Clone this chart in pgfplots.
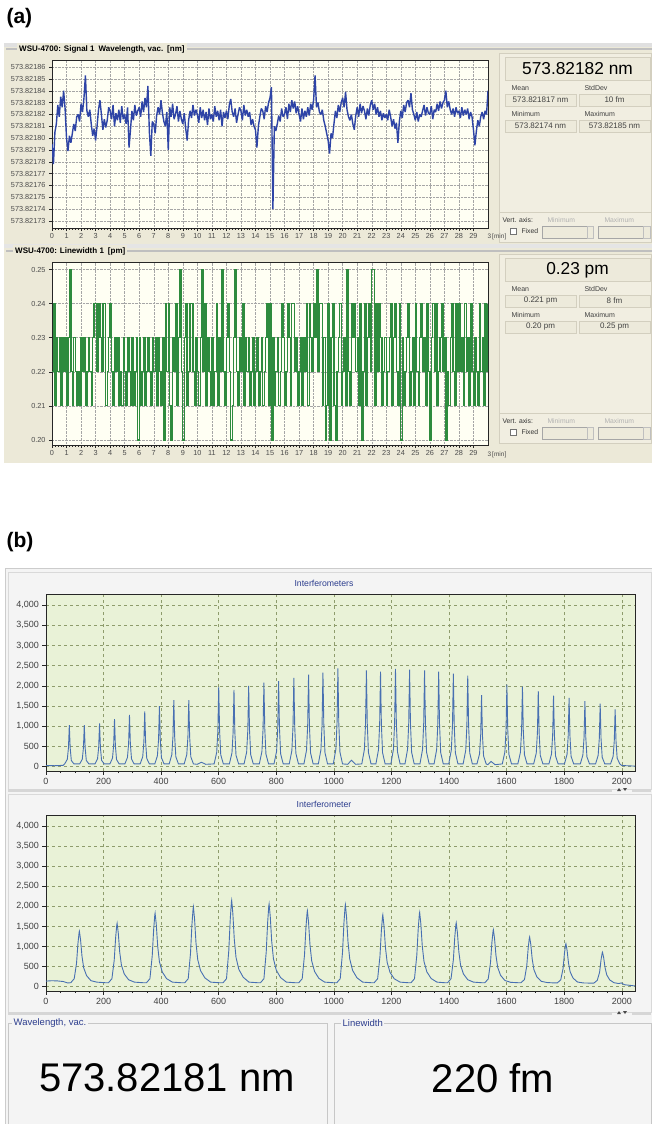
\documentclass[border=0pt]{standalone}
\usepackage{fontspec}
\setmainfont{Liberation Sans}
\usepackage{pgfplots}
\usepackage{pgfplotstable}
\pgfplotsset{compat=1.18}

\definecolor{winA}{HTML}{ECE9D8}
\definecolor{infoA}{HTML}{F1EEE1}
\definecolor{boxA}{HTML}{EDEADB}
\definecolor{edgeA}{HTML}{D3CFBF}
\definecolor{plotA}{HTML}{FFFFF3}
\definecolor{wblue}{HTML}{2E44A6}
\definecolor{lgreen}{HTML}{2E8B3E}
\definecolor{winB}{HTML}{F4F4F4}
\definecolor{plotB}{HTML}{E9F2D7}
\definecolor{gridB}{HTML}{8E9C6C}
\definecolor{lineB}{HTML}{4870B2}
\definecolor{navyT}{HTML}{2D3E8E}

\newcommand\fs[1]{\fontsize{#1}{#1}\selectfont}

% wavelength, in 1e-5 nm above 573.8217 nm, one value every 0.1 min
\pgfplotstableread[row sep=\\,header=false]{
9.5\\7.8\\10.5\\11.2\\12.8\\11.8\\13.5\\12.6\\14.0\\12.5\\
10.0\\8.9\\10.2\\9.6\\10.4\\11.2\\10.6\\11.8\\12.0\\11.4\\
12.9\\12.2\\13.4\\15.3\\12.3\\11.8\\12.4\\11.2\\10.2\\10.8\\
9.8\\11.0\\12.4\\13.2\\12.0\\10.7\\11.6\\10.9\\11.5\\12.6\\
12.3\\11.6\\12.8\\11.0\\12.1\\11.5\\12.4\\11.3\\12.7\\11.6\\
12.0\\11.2\\12.6\\9.2\\10.7\\12.3\\11.5\\12.8\\11.9\\12.3\\
12.6\\11.8\\13.1\\12.2\\13.4\\12.6\\14.4\\10.5\\8.5\\11.4\\
11.2\\10.4\\11.9\\12.6\\12.0\\13.2\\12.1\\11.4\\11.0\\12.2\\
9.0\\12.6\\11.8\\12.9\\11.6\\12.0\\12.7\\11.4\\12.3\\11.6\\
11.2\\12.1\\10.8\\9.8\\11.5\\12.3\\11.7\\12.8\\11.9\\12.4\\
12.0\\11.3\\12.6\\11.7\\12.4\\11.5\\12.2\\11.1\\12.5\\11.6\\
12.0\\11.4\\12.7\\11.8\\12.3\\11.5\\12.4\\11.0\\12.2\\11.7\\
12.3\\11.6\\12.8\\13.3\\12.2\\11.8\\12.5\\11.3\\12.0\\12.6\\
12.3\\11.5\\12.8\\11.9\\12.4\\11.8\\12.2\\11.1\\11.6\\11.0\\
10.7\\9.2\\11.0\\11.8\\12.5\\12.3\\11.6\\12.7\\12.2\\13.0\\
13.4\\14.3\\4.0\\11.0\\10.6\\11.2\\11.9\\11.4\\12.5\\11.8\\
12.0\\12.6\\11.6\\12.9\\12.2\\13.2\\12.5\\13.1\\12.1\\12.7\\
12.0\\11.4\\12.5\\11.6\\12.3\\11.8\\12.6\\11.9\\12.9\\12.4\\
13.2\\15.3\\12.6\\13.0\\12.2\\12.0\\12.4\\11.5\\11.0\\10.4\\
9.8\\8.7\\10.4\\10.0\\11.2\\12.3\\11.7\\12.8\\12.2\\13.0\\
13.4\\12.6\\13.9\\12.4\\11.8\\11.5\\12.0\\11.2\\10.7\\11.9\\
12.6\\11.8\\12.9\\12.1\\12.7\\12.3\\11.6\\12.5\\11.9\\12.8\\
13.2\\12.4\\12.9\\12.0\\12.6\\11.8\\12.3\\11.5\\12.1\\11.7\\
12.0\\11.5\\12.4\\11.8\\11.0\\11.6\\10.8\\11.3\\9.6\\11.4\\
12.3\\11.7\\12.8\\12.2\\13.0\\13.2\\12.6\\13.8\\12.4\\12.0\\
11.5\\12.2\\11.4\\12.0\\11.8\\12.3\\12.8\\11.9\\12.6\\12.1\\
12.0\\12.7\\11.6\\12.4\\12.2\\12.9\\12.3\\13.1\\12.5\\13.0\\
13.2\\14.0\\12.6\\13.1\\12.4\\12.0\\12.5\\11.8\\12.6\\12.1\\
12.3\\11.7\\12.6\\11.9\\12.4\\12.0\\12.5\\11.6\\12.2\\11.8\\
10.7\\9.4\\10.6\\11.5\\11.0\\11.8\\12.2\\11.6\\12.3\\12.0\\
14.0\\
}\wavelen

% linewidth, in 0.01 pm, one value every 0.1 min
\pgfplotstableread[row sep=\\,header=false]{
22\\24\\21\\23\\22\\23\\21\\23\\22\\23\\
21\\23\\25\\22\\21\\23\\22\\21\\22\\21\\
23\\22\\23\\21\\22\\23\\22\\21\\23\\24\\
24\\22\\24\\23\\22\\24\\24\\21\\22\\23\\
24\\22\\21\\23\\22\\23\\21\\22\\21\\23\\
22\\21\\23\\22\\21\\23\\21\\22\\23\\20\\
23\\21\\22\\23\\21\\22\\23\\22\\21\\23\\
22\\23\\21\\23\\22\\21\\23\\20\\24\\22\\
24\\21\\20\\23\\22\\24\\21\\23\\25\\22\\
20\\23\\24\\21\\22\\24\\24\\22\\21\\23\\
22\\21\\23\\25\\22\\24\\21\\23\\22\\21\\
23\\21\\22\\24\\21\\23\\22\\25\\22\\21\\
23\\24\\22\\20\\21\\23\\25\\22\\21\\23\\
22\\24\\21\\23\\22\\23\\21\\22\\23\\21\\
22\\23\\21\\22\\23\\21\\22\\23\\24\\21\\
24\\20\\23\\21\\22\\23\\21\\22\\24\\23\\
21\\22\\24\\23\\21\\24\\24\\22\\23\\21\\
22\\23\\21\\23\\22\\24\\21\\24\\23\\22\\
24\\23\\25\\22\\24\\24\\21\\23\\20\\21\\
24\\20\\23\\24\\21\\20\\22\\23\\24\\21\\
22\\23\\21\\25\\22\\21\\24\\23\\24\\22\\
23\\21\\24\\20\\22\\24\\21\\23\\24\\22\\
25\\25\\21\\24\\22\\24\\23\\21\\22\\23\\
21\\22\\23\\24\\21\\23\\24\\22\\21\\24\\
20\\23\\21\\22\\23\\24\\21\\22\\23\\21\\
24\\22\\21\\23\\24\\22\\23\\21\\24\\22\\
20\\23\\24\\22\\24\\21\\22\\23\\24\\22\\
23\\20\\22\\21\\23\\24\\22\\21\\24\\22\\
24\\22\\23\\21\\24\\22\\23\\21\\24\\22\\
21\\23\\22\\21\\24\\22\\23\\21\\24\\22\\
24\\
}\linewid

\pgfplotsset{
  wsu/.style={
    scale only axis, anchor=north west, width=436pt,
    xmin=0, xmax=30, xtick={0,...,29}, minor x tick num=4,
    tick pos=left, tick align=outside,
    major tick length=3pt, minor tick length=1.5pt,
    grid=major, major grid style={densely dotted, black!35, line width=0.4pt},
    axis background/.style={fill=plotA},
    axis line style={black!85, line width=0.6pt},
    tick style={black!85, line width=0.4pt},
    ticklabel style={font=\fs{7.3}, text=black!70},
    xticklabel style={yshift=1pt},
    /pgf/number format/assume math mode=true,
  },
  interf/.style={
    scale only axis, anchor=north west, width=589pt, height=177pt,
    xmin=0, xmax=2046, ymin=-106, ymax=4272,
    xtick={0,200,...,2000}, minor x tick num=3,
    xticklabels={0,200,400,600,800,1000,1200,1400,1600,1800,2000},
    ytick={0,500,...,4000},
    yticklabels={0,500,{1,000},{1,500},{2,000},{2,500},{3,000},{3,500},{4,000}},
    tick pos=left, tick align=outside,
    major tick length=3.5pt, minor tick length=2pt,
    grid=major, major grid style={dashed, gridB, line width=0.5pt},
    axis background/.style={fill=plotB},
    axis line style={black!85, line width=0.7pt},
    tick style={black!85, line width=0.5pt},
    ticklabel style={font=\fs{9}, text=black!75},
  },
}

\begin{document}
\begin{tikzpicture}[x=1pt, y=-1pt]
\fill[white] (0,0) rectangle (652,1124);
\useasboundingbox (0,0) rectangle (652,1124);

% ---------------- (a) ----------------
\node[anchor=west, font=\bfseries\fs{21}] at (3,18) {(a)};
\fill[winA] (4,44) rectangle (652,463);
\fill[black!12] (4,43) rectangle (652,47);
\fill[black!10] (4,244) rectangle (652,248);

% title rules
\draw[black!25, line width=1.2pt] (6,49) -- (652,49);
\node[anchor=west, fill=winA, inner sep=2pt, font=\bfseries\fs{8}] at (17,49)
  {WSU-4700: Signal 1\enspace Wavelength, vac.\enspace [nm]};
\draw[black!25, line width=1.2pt] (6,251) -- (652,251);
\node[anchor=west, fill=winA, inner sep=2pt, font=\bfseries\fs{8}] at (13,251)
  {WSU-4700: Linewidth 1\enspace [pm]};

% info panels
\foreach \o in {0,201} {
  \filldraw[fill=infoA, draw=edgeA] (499,53+\o) rectangle (651,242+\o);
  \filldraw[fill=boxA, draw=edgeA] (505,57+\o) rectangle (650,80+\o);
  \filldraw[fill=boxA, draw=edgeA] (505,94+\o) rectangle (576,106+\o);
  \filldraw[fill=boxA, draw=edgeA] (579,94+\o) rectangle (650,106+\o);
  \filldraw[fill=boxA, draw=edgeA] (505,120+\o) rectangle (576,132+\o);
  \filldraw[fill=boxA, draw=edgeA] (579,120+\o) rectangle (650,132+\o);
  \node[anchor=west, font=\fs{7}, text=black!75] at (508,88+\o) {Mean};
  \node[anchor=west, font=\fs{7}, text=black!75] at (581,88+\o) {StdDev};
  \node[anchor=west, font=\fs{7}, text=black!75] at (508,114+\o) {Minimum};
  \node[anchor=west, font=\fs{7}, text=black!75] at (581,114+\o) {Maximum};
  \draw[edgeA] (499,212+\o) -- (651,212+\o);
  \node[anchor=west, font=\fs{6.8}, text=black!80] at (499,220+\o) {Vert. axis:};
  \node[anchor=west, font=\fs{6.8}, text=black!30] at (544,220+\o) {Minimum};
  \node[anchor=west, font=\fs{6.8}, text=black!30] at (601,220+\o) {Maximum};
  \filldraw[fill=white, draw=black!55] (510,228+\o) rectangle (516,234+\o);
  \node[anchor=west, font=\fs{6.8}, text=black!80] at (518,231+\o) {Fixed};
  \filldraw[fill=boxA, draw=black!35] (542,226+\o) rectangle (587,238+\o);
  \filldraw[fill=boxA, draw=black!25] (587,226+\o) rectangle (593,238+\o);
  \filldraw[fill=boxA, draw=black!35] (598,226+\o) rectangle (643,238+\o);
  \filldraw[fill=boxA, draw=black!25] (643,226+\o) rectangle (650,238+\o);
}
\node[font=\fs{17.3}] at (577.5,69) {573.82182 nm};
\node[font=\fs{8}, text=black!75] at (540.5,100) {573.821817 nm};
\node[font=\fs{8}, text=black!75] at (614.5,100) {10 fm};
\node[font=\fs{8}, text=black!75] at (540.5,126) {573.82174 nm};
\node[font=\fs{8}, text=black!75] at (614.5,126) {573.82185 nm};
\node[font=\fs{17.3}] at (577.5,270) {0.23 pm};
\node[font=\fs{8}, text=black!75] at (540.5,301) {0.221 pm};
\node[font=\fs{8}, text=black!75] at (614.5,301) {8 fm};
\node[font=\fs{8}, text=black!75] at (540.5,327) {0.20 pm};
\node[font=\fs{8}, text=black!75] at (614.5,327) {0.25 pm};

\node[anchor=west, font=\fs{6.5}, text=black!70] at (484,237) {3\,[min]};
\node[anchor=west, font=\fs{6.5}, text=black!70] at (484,455) {3\,[min]};

% wavelength plot
\begin{axis}[wsu, at={(52pt,-60pt)}, height=168pt,
  ymin=2.4, ymax=16.6, ytick={3,...,16},
  yticklabels={573.82173,573.82174,573.82175,573.82176,573.82177,573.82178,573.82179,
    573.82180,573.82181,573.82182,573.82183,573.82184,573.82185,573.82186}]
  \addplot[wblue, line width=1.4pt, line join=bevel] table[x expr=\coordindex*0.1, y index=0] {\wavelen};
\end{axis}

% linewidth plot (values in 0.01 pm)
\begin{axis}[wsu, at={(52pt,-262pt)}, height=183pt,
  ymin=19.85, ymax=25.22, ytick={20,...,25},
  yticklabels={0.20,0.21,0.22,0.23,0.24,0.25}]
  \addplot[lgreen, line width=1.35pt, const plot] table[x expr=\coordindex*0.1, y index=0] {\linewid};
\end{axis}

% ---------------- (b) ----------------
\node[anchor=west, font=\bfseries\fs{21}] at (3,542) {(b)};
\filldraw[fill=winB, draw=black!20] (5,568) rectangle (652,1124);
\filldraw[fill=winB, draw=black!15] (8,572) rectangle (651,789);
\filldraw[fill=winB, draw=black!15] (8,794) rectangle (651,1012);
\fill[black!16] (8,789) rectangle (612,792);
\fill[black!16] (632,789) rectangle (651,792);
\fill[black!16] (8,1012) rectangle (612,1015);
\fill[black!16] (632,1012) rectangle (651,1015);
\foreach \yy in {790,1013} {
  \fill[black!70] (617,\yy+1) -- (621,\yy+1) -- (619,\yy-2) -- cycle;
  \fill[black!70] (623,\yy-2) -- (627,\yy-2) -- (625,\yy+1) -- cycle;
}
\node[font=\fs{8.7}, text=navyT] at (324,583) {Interferometers};
\node[font=\fs{8.7}, text=navyT] at (324,804) {Interferometer};

\begin{axis}[interf, at={(46pt,-594pt)}]
  \addplot[lineB, line width=0.9pt] coordinates {
    (0,30)(30,25)(60,35)
    (65,70)(74,185)(78,465)(81,1030)(84,465)(88,155)(97,70)
    (117,70)(126,185)(130,465)(133,1030)(136,465)(140,155)(149,70)
    (170,70)(179,193)(183,480)(186,1070)(189,480)(193,160)(202,70)
    (222,70)(231,212)(235,530)(238,1180)(241,530)(245,177)(254,70)
    (274,70)(283,230)(287,576)(290,1280)(293,576)(297,192)(306,70)
    (327,70)(336,247)(340,616)(343,1370)(346,616)(350,205)(359,70)
    (378,70)(387,270)(391,675)(394,1500)(397,675)(401,225)(410,70)
    (428,70)(437,297)(441,742)(444,1650)(447,742)(451,247)(460,70)
    (480,70)(489,297)(493,742)(496,1650)(499,742)(503,247)(512,70)
    (525,60)(540,110)(555,60)
    (584,70)(593,356)(597,891)(600,1980)(603,891)(607,297)(616,70)
    (637,70)(646,342)(650,855)(653,1900)(656,855)(660,285)(669,70)
    (688,70)(697,360)(701,900)(704,2000)(707,900)(711,300)(720,70)
    (741,70)(750,374)(754,936)(757,2080)(760,936)(764,312)(773,70)
    (792,70)(801,382)(805,954)(808,2120)(811,954)(815,318)(824,70)
    (845,70)(854,396)(858,990)(861,2200)(864,990)(868,330)(877,70)
    (896,70)(905,410)(909,1026)(912,2280)(915,1026)(919,342)(928,70)
    (946,70)(955,419)(959,1048)(962,2330)(965,1048)(969,350)(978,70)
    (998,70)(1007,437)(1011,1093)(1014,2430)(1017,1093)(1021,365)(1030,70)
    (1048,60)(1061,160)(1075,60)
    (1097,70)(1106,428)(1110,1071)(1113,2380)(1116,1071)(1120,357)(1129,70)
    (1146,70)(1155,423)(1159,1057)(1162,2350)(1165,1057)(1169,352)(1178,70)
    (1198,70)(1207,436)(1211,1089)(1214,2420)(1217,1089)(1221,363)(1230,70)
    (1247,70)(1256,432)(1260,1080)(1263,2400)(1266,1080)(1270,360)(1279,70)
    (1299,70)(1308,428)(1312,1071)(1315,2380)(1318,1071)(1322,357)(1331,70)
    (1348,70)(1357,423)(1361,1057)(1364,2350)(1367,1057)(1371,352)(1380,70)
    (1399,70)(1408,414)(1412,1035)(1415,2300)(1418,1035)(1422,345)(1431,70)
    (1449,70)(1458,405)(1462,1012)(1465,2250)(1468,1012)(1472,337)(1481,70)
    (1497,70)(1506,319)(1510,796)(1513,1770)(1516,796)(1520,265)(1529,70)
    (1535,50)(1546,130)(1560,50)
    (1585,70)(1594,365)(1598,913)(1601,2030)(1604,913)(1608,305)(1617,70)
    (1639,70)(1648,356)(1652,891)(1655,1980)(1658,891)(1662,297)(1671,70)
    (1694,70)(1703,337)(1707,841)(1710,1870)(1713,841)(1717,280)(1726,70)
    (1747,70)(1756,317)(1760,792)(1763,1760)(1766,792)(1770,264)(1779,70)
    (1801,70)(1810,306)(1814,765)(1817,1700)(1820,765)(1824,255)(1833,70)
    (1856,70)(1865,292)(1869,729)(1872,1620)(1875,729)(1879,243)(1888,70)
    (1909,70)(1918,281)(1922,702)(1925,1560)(1928,702)(1932,234)(1941,70)
    (1961,70)(1970,256)(1974,639)(1977,1420)(1980,639)(1984,213)(1993,70)
    (2000,30)(2046,15)
  };
\end{axis}

\begin{axis}[interf, at={(46pt,-815pt)}, height=176pt]
  \addplot[lineB, line width=0.9pt] coordinates {
    (0,140)(20,150)(40,145)(60,130)(75,95)
    (86,100)(98,200)(106,580)(111,1076)(115,1352)(116,1380)(120,1173)(125,759)(131,469)(141,276)(156,152)(176,115)(206,100)
    (217,100)(229,200)(237,664)(242,1232)(246,1548)(247,1580)(251,1343)(256,869)(262,537)(272,316)(287,174)(307,115)(337,100)
    (349,100)(361,200)(369,769)(374,1427)(378,1793)(379,1830)(383,1556)(388,1007)(394,622)(404,366)(419,201)(439,115)(469,100)
    (482,100)(494,200)(502,836)(507,1552)(511,1950)(512,1990)(516,1692)(521,1095)(527,677)(537,398)(552,219)(572,115)(602,100)
    (615,100)(627,200)(635,903)(640,1677)(644,2107)(645,2150)(649,1828)(654,1183)(660,731)(670,430)(685,237)(705,115)(735,100)
    (745,100)(757,200)(765,865)(770,1607)(774,2019)(775,2060)(779,1751)(784,1133)(790,700)(800,412)(815,227)(835,115)(865,100)
    (878,100)(890,200)(898,794)(903,1474)(907,1852)(908,1890)(912,1607)(917,1040)(923,643)(933,378)(948,208)(968,115)(998,100)
    (1010,100)(1022,200)(1030,857)(1035,1591)(1039,1999)(1040,2040)(1044,1734)(1049,1122)(1055,694)(1065,408)(1080,224)(1100,115)(1130,100)
    (1140,100)(1152,200)(1160,752)(1165,1396)(1169,1754)(1170,1790)(1174,1522)(1179,985)(1185,609)(1195,358)(1210,197)(1230,115)(1258,100)
    (1268,100)(1280,200)(1288,777)(1293,1443)(1297,1813)(1298,1850)(1302,1573)(1307,1018)(1313,629)(1323,370)(1338,204)(1358,115)(1385,100)
    (1395,100)(1407,200)(1415,668)(1420,1240)(1424,1558)(1425,1590)(1429,1352)(1434,875)(1440,541)(1450,318)(1465,175)(1485,115)(1514,100)
    (1524,100)(1536,190)(1544,596)(1549,1108)(1553,1392)(1554,1420)(1558,1207)(1563,781)(1569,483)(1579,284)(1594,156)(1614,110)(1640,100)
    (1650,100)(1662,180)(1670,521)(1675,967)(1679,1215)(1680,1240)(1684,1054)(1689,682)(1695,422)(1705,248)(1720,136)(1740,105)(1766,95)
    (1776,95)(1788,170)(1796,449)(1801,835)(1805,1049)(1806,1070)(1810,910)(1815,589)(1821,364)(1831,214)(1846,118)(1866,95)(1893,90)
    (1903,90)(1915,160)(1923,361)(1928,671)(1932,843)(1933,860)(1937,731)(1942,473)(1948,292)(1958,172)(1973,100)(1990,80)(1998,95)(2010,50)(2046,20)
  };
\end{axis}

% readouts
\draw[black!22] (8,1023) -- (8,1124) (8,1023) -- (327,1023) -- (327,1124);
\draw[black!22] (334,1023) -- (334,1124) (334,1023) -- (651,1023) -- (651,1124);
\node[anchor=west, fill=winB, inner sep=1.5pt, font=\fs{9.5}, text=navyT] at (12,1023) {Wavelength, vac.};
\node[anchor=west, fill=winB, inner sep=1.5pt, font=\fs{9.5}, text=navyT] at (341,1023) {Linewidth};
\node[font=\fs{40}] at (167,1078) {573.82181 nm};
\node[font=\fs{40}] at (493,1078) {220 fm};
\end{tikzpicture}
\end{document}
